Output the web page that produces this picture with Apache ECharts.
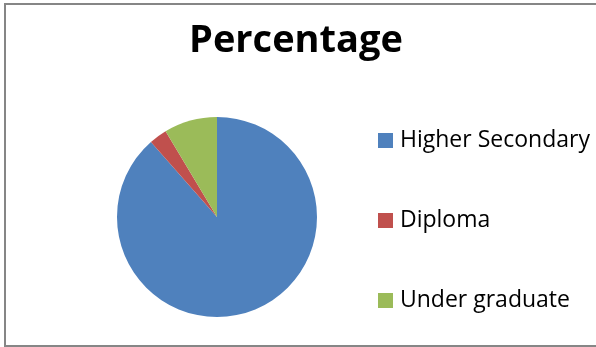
<!DOCTYPE html>
<html>
<head>
<meta charset="utf-8">
<script src="https://cdn.jsdelivr.net/npm/echarts@6/dist/echarts.min.js"></script>
<style>
  html, body { margin: 0; padding: 0; background: #fff; }
  #chart { width: 596px; height: 347px; }
</style>
</head>
<body>
<div id="chart"></div>
<script>
const categories = ['Higher Secondary', 'Diploma', 'Under graduate'];
const values = [88.6, 2.9, 8.6];
const colors = ['#4F81BD', '#C0504D', '#9BBB59'];

const chart = echarts.init(document.getElementById('chart'));

const option = {
  backgroundColor: '#fff',
  animation: false,
  title: {
    text: 'Percentage',
    left: 291,
    textAlign: 'center',
    top: 17,
    textStyle: { fontFamily: 'Open Sans', fontSize: 38, fontWeight: 'bold', color: '#000' },
  },
  legend: {
    orient: 'vertical',
    left: 373,
    top: 124,
    icon: 'rect',
    itemWidth: 15,
    itemHeight: 15,
    itemGap: 57,
    selectedMode: false,
    textStyle: { fontFamily: 'Open Sans', fontSize: 23, color: '#000', padding: [0, 0, 0, 2] },
    data: categories,
  },
  graphic: [
    {
      type: 'rect',
      shape: { x: 5, y: 4, width: 600, height: 342 },
      style: { fill: 'none', stroke: '#868686', lineWidth: 2 },
      silent: true,
    },
  ],
  series: [
    {
      type: 'pie',
      center: [217, 217],
      radius: 100,
      startAngle: 90,
      clockwise: true,
      label: { show: false },
      labelLine: { show: false },
      emphasis: { disabled: true },
      itemStyle: { borderWidth: 0 },
      data: categories.map((name, i) => ({
        name,
        value: values[i],
        itemStyle: { color: colors[i] },
      })),
    },
  ],
};

chart.setOption(option);
</script>
</body>
</html>
